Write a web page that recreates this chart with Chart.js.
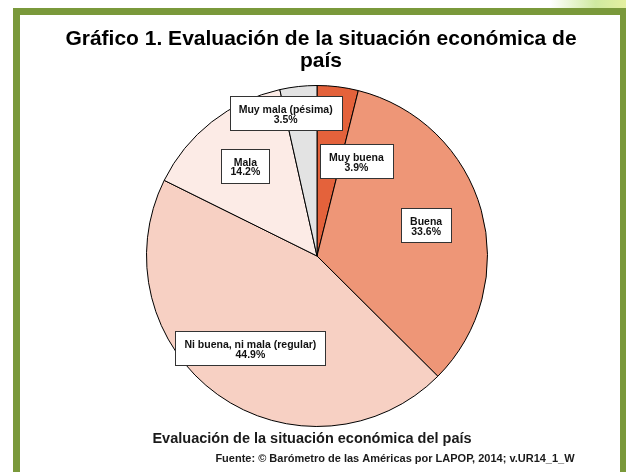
<!DOCTYPE html>
<html>
<head>
<meta charset="utf-8">
<script src="https://cdn.jsdelivr.net/npm/chart.js@4"></script>
<style>
  html, body { margin: 0; padding: 0; background: #fff; }
  body { width: 626px; height: 472px; position: relative; overflow: hidden; }
  #marco {
    position: absolute; left: 13px; top: 8px; width: 614px; height: 520px;
    box-sizing: border-box; border: 7px solid #7a993b;
  }
  #brillo {
    position: absolute; left: 550px; top: 0; width: 76px; height: 9px;
    background: linear-gradient(to right, rgba(255,255,255,0), #cfeaa0 60%, #e4f0a0);
  }
  #grafico { position: absolute; left: 0; top: 0; }
</style>
</head>
<body>
<div id="brillo"></div>
<div id="marco"></div>
<canvas id="grafico" width="626" height="472"></canvas>
<script>
// datos del grafico (en sentido horario desde arriba)
let categorias = ["Muy buena", "Buena", "Ni buena, ni mala (regular)", "Mala", "Muy mala (pésima)"];
let porcentajes = [3.9, 33.6, 44.9, 14.2, 3.5];
let colores = ["#e4623b", "#ee9677", "#f7d0c3", "#fcebe6", "#e3e3e3"];

let titulo = ["Gráfico 1. Evaluación de la situación económica de", "país"];
let tituloEje = "Evaluación de la situación económica del país";
let fuente = "Fuente: © Barómetro de las Américas por LAPOP, 2014; v.UR14_1_W";

// desplazamiento de cada etiqueta respecto al centro del sector
let ajusteEtiquetas = [[29, -10], [27, -8], [-17, 23], [-19, -23], [-22, -58]];

const fuenteTexto = "'Liberation Sans', Arial, sans-serif";

const pluginTextos = {
    id: 'textos',
    afterDraw(chart) {
        const ctx = chart.ctx;
        ctx.save();
        ctx.fillStyle = '#000';
        ctx.textAlign = 'center';
        ctx.textBaseline = 'alphabetic';

        // titulo
        ctx.font = "bold 21px " + fuenteTexto;
        ctx.fillText(titulo[0], 321, 45);
        ctx.fillText(titulo[1], 321, 67);

        // etiquetas de los sectores
        const meta = chart.getDatasetMeta(0);
        ctx.font = "bold 10.5px " + fuenteTexto;
        meta.data.forEach(function (arco, i) {
            const p = arco.tooltipPosition();
            const x = p.x + ajusteEtiquetas[i][0];
            const y = p.y + ajusteEtiquetas[i][1];
            const linea1 = categorias[i];
            const linea2 = porcentajes[i].toFixed(1) + "%";
            const ancho = Math.round(Math.max(ctx.measureText(linea1).width, ctx.measureText(linea2).width) + 18);
            const alto = 34;
            const bx = Math.round(x - ancho / 2) + 0.5;
            const by = Math.round(y - alto / 2) + 0.5;
            ctx.fillStyle = '#fff';
            ctx.fillRect(bx, by, ancho, alto);
            ctx.strokeStyle = '#333';
            ctx.lineWidth = 1;
            ctx.strokeRect(bx, by, ancho, alto);
            ctx.fillStyle = '#111';
            ctx.fillText(linea1, x, y);
            ctx.fillText(linea2, x, y + 9.5);
        });

        // texto inferior
        ctx.fillStyle = '#1a1a1a';
        ctx.font = "bold 14.5px " + fuenteTexto;
        ctx.fillText(tituloEje, 312, 443);
        ctx.font = "bold 11px " + fuenteTexto;
        ctx.fillText(fuente, 395, 462);
        ctx.restore();
    }
};

new Chart(document.getElementById("grafico"), {
    type: 'pie',
    data: {
        labels: categorias,
        datasets: [{
            data: porcentajes,
            backgroundColor: colores,
            borderColor: '#000',
            borderWidth: 1
        }]
    },
    options: {
        responsive: false,
        animation: false,
        layout: { padding: { left: 146, right: 138, top: 85, bottom: 45 } },
        plugins: {
            legend: { display: false },
            tooltip: { enabled: false },
            title: { display: false }
        }
    },
    plugins: [pluginTextos]
});
</script>
</body>
</html>
